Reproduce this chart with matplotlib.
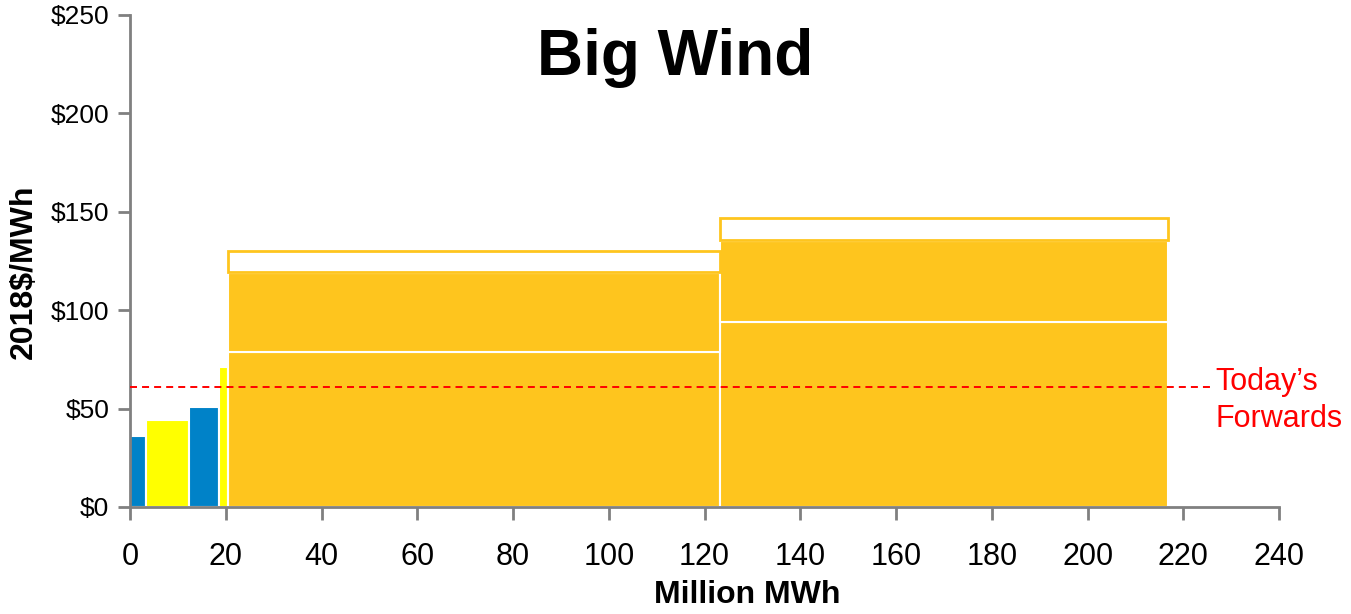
import numpy as np
import matplotlib.pyplot as plt

plt.rcParams['font.family'] = ['Liberation Sans', 'DejaVu Sans']

# supply stack: width of each block (Million MWh) and cost pieces (2018$/MWh)
widths = [3.3, 9.1, 6.1, 1.9, 102.8, 93.6]
base_cost = [36, 44, 51, 71, 79, 94]
adder_cost = [0, 0, 0, 0, 40, 41]
upper_cost = [0, 0, 0, 0, 11, 12]
colors = ['#0082C8', '#FFFF00', '#0082C8', '#FFFF00', '#FEC51E', '#FEC51E']
forwards = 61

x_ticks = np.arange(0, 241, 20)
y_ticks = np.arange(0, 251, 50)

orange = '#FEC51E'
gray = '#808080'

fig = plt.figure(figsize=(13.51, 6.14), dpi=100)
ax = fig.add_axes([0.0963, 0.1743, 0.8505, 0.8013])

lefts = np.concatenate([[0], np.cumsum(widths)[:-1]])
base_cost = np.array(base_cost)
adder_cost = np.array(adder_cost)
upper_cost = np.array(upper_cost)

ax.bar(lefts, base_cost, width=widths, align='edge', color=colors,
       edgecolor='white', linewidth=1.5, zorder=2)
m = adder_cost > 0
ax.bar(lefts[m], adder_cost[m], width=np.array(widths)[m], bottom=base_cost[m],
       align='edge', color=orange, edgecolor='white', linewidth=1.5, zorder=2)
m = upper_cost > 0
ax.bar(lefts[m], upper_cost[m] - 0.6, width=np.array(widths)[m],
       bottom=(base_cost + adder_cost)[m] + 0.6, align='edge', color='white',
       edgecolor=orange, linewidth=2, zorder=2)

# today's forward price
ax.plot([0, 226.2], [forwards, forwards], color='red', linestyle=(0, (3.6, 2.6)),
        linewidth=1.4, zorder=3)
ax.text(226.7, forwards - 1.5, 'Today\u2019s', color='red', fontsize=22,
        va='baseline', ha='left')
ax.text(226.7, forwards - 20.3, 'Forwards', color='red', fontsize=22,
        va='baseline', ha='left')

ax.set_xlim(0, 240)
ax.set_ylim(0, 250)
ax.set_xticks(x_ticks)
ax.set_xticklabels([str(v) for v in x_ticks], fontsize=22)
ax.set_yticks(y_ticks)
ax.set_yticklabels(['$' + str(v) for v in y_ticks], fontsize=19)

for s in ['top', 'right']:
    ax.spines[s].set_visible(False)
for s in ['left', 'bottom']:
    ax.spines[s].set_color(gray)
    ax.spines[s].set_linewidth(2)
ax.tick_params(axis='both', color=gray, width=2, length=9, direction='out')
ax.tick_params(axis='x', pad=16)
ax.tick_params(axis='y', pad=6)

fig.text(0.5533, 0.018, 'Million MWh', fontsize=23, fontweight='bold',
         ha='center', va='baseline')
fig.text(0.0175, 0.557, '2018$/MWh', fontsize=23, fontweight='bold',
         ha='center', va='center', rotation=90)

fig.text(0.4996, 0.878, 'Big Wind', fontsize=46, fontweight='bold',
         ha='center', va='baseline')

fig.savefig('out.png', dpi=100)
